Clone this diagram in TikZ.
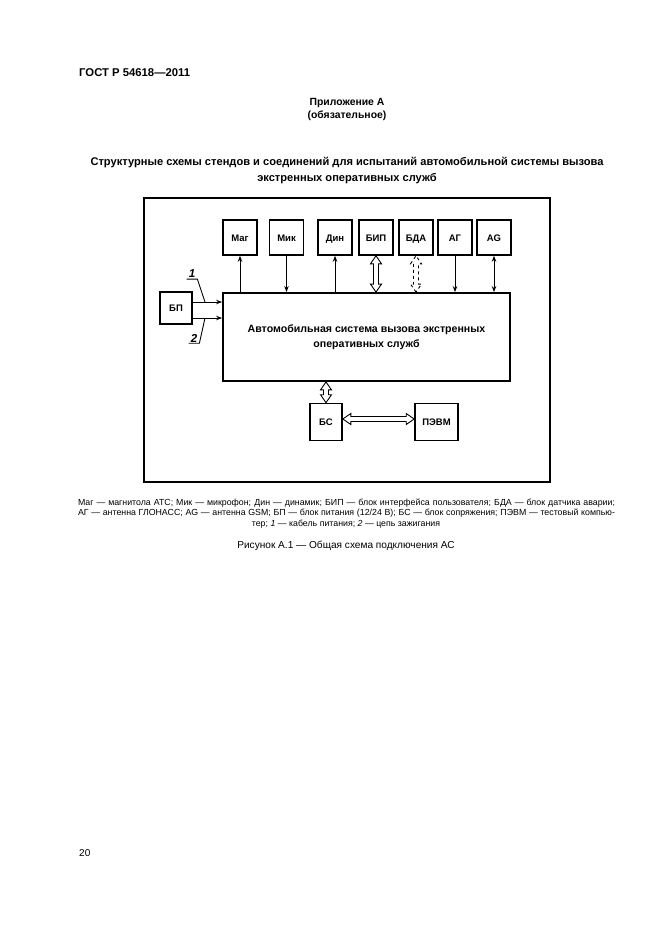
\documentclass[tikz,border=0pt]{standalone}
\usepackage{fontspec}
\setmainfont{Liberation Sans}
\usetikzlibrary{arrows.meta,calc}
\begin{document}
\begin{tikzpicture}[x=1pt,y=-1pt,
 sm/.style={draw, line width=1.6pt, minimum width=34pt, minimum height=35pt, inner sep=0pt, text height=7pt, text depth=0pt, font=\bfseries\fontsize{9.5}{10}\selectfont},
 conn/.style={line width=1pt},
 tip/.style={-{Stealth[length=6pt,width=4.5pt]}},
 tips/.style={{Stealth[length=6pt,width=4.5pt]}-{Stealth[length=6pt,width=4.5pt]}},
 hollow/.style={line width=0.9pt, to path={
   -- ($(\tikztostart)!8pt!(\tikztotarget)!5.5pt!90:(\tikztotarget)$)
   -- ($(\tikztostart)!8pt!(\tikztotarget)!2.5pt!90:(\tikztotarget)$)
   -- ($(\tikztotarget)!8pt!(\tikztostart)!2.5pt!-90:(\tikztostart)$)
   -- ($(\tikztotarget)!8pt!(\tikztostart)!5.5pt!-90:(\tikztostart)$)
   -- (\tikztotarget)
   -- ($(\tikztotarget)!8pt!(\tikztostart)!5.5pt!90:(\tikztostart)$)
   -- ($(\tikztotarget)!8pt!(\tikztostart)!2.5pt!90:(\tikztostart)$)
   -- ($(\tikztostart)!8pt!(\tikztotarget)!2.5pt!-90:(\tikztotarget)$)
   -- ($(\tikztostart)!8pt!(\tikztotarget)!5.5pt!-90:(\tikztotarget)$)
   -- cycle}},
 txt/.style={inner sep=0pt}
]
\useasboundingbox (0,0) rectangle (661,936);
\fill[white] (0,0) rectangle (661,936);

% header texts
\node[txt, anchor=west, font=\bfseries\fontsize{11.3}{13}\selectfont] (hdr) at (79,73) {ГОСТ Р 54618—2011};
\node[txt, font=\bfseries\fontsize{10.4}{12}\selectfont] (app) at (347,103) {Приложение А};
\node[txt, font=\bfseries\fontsize{10.4}{12}\selectfont] (obl) at (347,116) {(обязательное)};
\node[txt, font=\bfseries\fontsize{11.1}{13}\selectfont] (t1) at (347,163) {Структурные схемы стендов и соединений для испытаний автомобильной системы вызова};
\node[txt, font=\bfseries\fontsize{11.1}{13}\selectfont] (t2) at (347,179) {экстренных оперативных служб};

% frame
\node[draw, line width=2pt, minimum width=406pt, minimum height=284pt, inner sep=0pt] (frame) at (347,340) {};

% main block
\node[draw, line width=1.8pt, minimum width=287pt, minimum height=88pt, inner sep=0pt, align=center, font=\bfseries\fontsize{10.6}{15.5}\selectfont] (main) at (366.5,337) {Автомобильная система вызова экстренных\\оперативных служб};

% top blocks
\node[sm] (mag) at (240,237.5) {Маг};
\node[sm] (mik) at (286.5,237.5) {Мик};
\node[sm] (din) at (335,237.5) {Дин};
\node[sm] (bip) at (376,237.5) {БИП};
\node[sm] (bda) at (416,237.5) {БДА};
\node[sm] (ag) at (455,237.5) {АГ};
\node[sm] (agl) at (494,237.5) {AG};

\coordinate (bipb) at (main.north -| bip);
\coordinate (bdab) at (main.north -| bda);
\draw[conn, tip] (main.north -| mag) -- (mag.south);
\draw[conn, tip] (mik.south) -- (main.north -| mik);
\draw[conn, tip] (main.north -| din) -- (din.south);
\draw[hollow] (bipb) to (bip.south);
\draw[hollow, dashed] (bdab) to (bda.south);
\draw[conn, tip] (ag.south) -- (main.north -| ag);
\draw[conn, tips] (main.north -| agl) -- (agl.south);

% power block
\node[sm, minimum width=32pt, minimum height=32pt] (bp) at (176,308) {БП};
\draw[conn, tip] ([yshift=6pt]bp.east) -- ([yshift=6pt]bp.east -| main.west);
\draw[conn, tip] ([yshift=-10pt]bp.east) -- ([yshift=-10pt]bp.east -| main.west);
\coordinate (c1) at (205,302);
\coordinate (c2) at (205,318);
\node[txt, inner xsep=2pt, inner ysep=1pt, font=\bfseries\itshape\fontsize{11.5}{12}\selectfont] (l1) at (192,274) {1};
\node[txt, inner xsep=2pt, inner ysep=1pt, font=\bfseries\itshape\fontsize{11.5}{12}\selectfont] (l2) at (194,338) {2};
\draw[line width=0.9pt] (l1.south west) -- (l1.south east) -- (c1);
\draw[line width=0.9pt] (l2.south west) -- (l2.south east) -- (c2);

% bottom blocks
\node[sm, minimum width=32pt, minimum height=37pt] (bs) at (326,422) {БС};
\node[sm, minimum width=43pt, minimum height=37pt] (pc) at (436.5,422) {ПЭВМ};
\coordinate (bstop) at (main.south -| bs);
\coordinate (bsr) at ([yshift=3pt]bs.east);
\coordinate (pcl) at ([yshift=3pt]bs.east -| pc.west);
\draw[hollow] (bstop) to (bs.north);
\draw[hollow] (bsr) to (pcl);

% legend
\node[txt, font=\fontsize{8.8}{10}\selectfont] (lg1) at (346.5,503) {\makebox[537pt][s]{Маг — магнитола АТС; Мик — микрофон; Дин — динамик; БИП — блок интерфейса пользователя; БДА — блок датчика аварии;}};
\node[txt, font=\fontsize{8.8}{10}\selectfont] (lg2) at (346.5,513.5) {\makebox[537pt][s]{АГ — антенна ГЛОНАСС; AG — антенна GSM; БП — блок питания (12/24 В); БС — блок сопряжения; ПЭВМ — тестовый компью-}};
\node[txt, font=\fontsize{8.8}{10}\selectfont] (lg3) at (346,524) {тер; \textit{1} — кабель питания; \textit{2} — цепь зажигания};

\node[txt, font=\fontsize{10.1}{12}\selectfont] (cap) at (346,546) {Рисунок А.1 — Общая схема подключения АС};
\node[txt, anchor=west, font=\fontsize{10}{12}\selectfont] (pg) at (79,853) {20};
\end{tikzpicture}
\end{document}
